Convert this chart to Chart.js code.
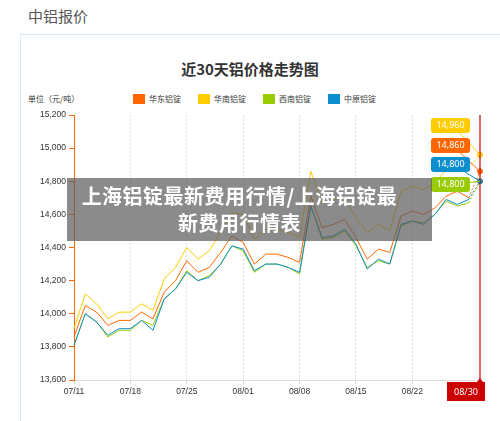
<!DOCTYPE html>
<html><head><meta charset="utf-8">
<script src="https://cdn.jsdelivr.net/npm/chart.js@4"></script>
<style>
body{margin:0;width:500px;height:421px;background:#fff;font-family:"Noto Sans CJK SC","Noto Sans",sans-serif;position:relative;overflow:hidden}
#head{position:absolute;left:28px;top:5px;font-size:15px;color:#555}
#box{position:absolute;left:20px;top:34px;width:490px;height:400px;border:1px solid #d8e8f2}
#title{position:absolute;left:0;width:500px;top:58px;text-align:center;font-size:15px;font-weight:bold;color:#333}
#unit{position:absolute;left:28px;top:93px;font-size:8px;color:#333}
#legend{position:absolute;left:133px;top:93px;font-size:8px;color:#333;display:flex;gap:17px}
#legend span i{display:inline-block;width:12px;height:10px;margin-right:4px;vertical-align:-2px}
#cv{position:absolute;left:0;top:0}
#banner{position:absolute;left:67px;top:178px;width:365px;height:63px;background:rgba(90,90,90,.7);color:#fff;font-weight:bold;font-size:20px;text-align:center;line-height:27px;padding:4px 20px 0 0;box-sizing:border-box;letter-spacing:0.5px}
</style></head><body>
<div id="head">中铝报价</div>
<div id="box"></div>
<div id="title">近30天铝价格走势图</div>
<div id="unit">单位（元/吨）</div>
<div id="legend"></div>
<canvas id="cv" width="500" height="421"></canvas>
<div id="banner">上海铝锭最新费用行情/上海铝锭最<br>新费用行情表</div>
<script>
const dates = ['07/11','07/12','07/13','07/14','07/15','07/18','07/19','07/20','07/21','07/22','07/25','07/26','07/27','07/28','07/29','08/01','08/02','08/03','08/04','08/05','08/08','08/09','08/10','08/11','08/12','08/15','08/16','08/17','08/18','08/19','08/22','08/23','08/24','08/25','08/26','08/29','08/30'];
const huadong = [13860,14050,14010,13930,13960,13960,14010,13970,14130,14200,14320,14250,14280,14370,14470,14430,14300,14360,14360,14340,14310,14710,14520,14540,14570,14460,14330,14390,14370,14590,14620,14600,14640,14710,14740,14700,14860];
const huanan = [13910,14120,14060,13970,14010,14010,14060,14020,14210,14280,14400,14330,14380,14490,14610,14600,14450,14510,14510,14490,14460,14860,14670,14690,14700,14580,14490,14540,14500,14740,14770,14750,14790,14870,14900,14880,14960];
const xinan = [13810,14000,13950,13860,13900,13900,13960,13930,14090,14150,14260,14200,14230,14300,14410,14380,14250,14300,14300,14280,14240,14650,14450,14460,14500,14410,14280,14320,14300,14530,14560,14550,14600,14680,14650,14670,14800];
const zhongyuan = [13810,14000,13950,13870,13910,13910,13960,13900,14090,14150,14250,14200,14220,14300,14410,14390,14260,14300,14300,14280,14250,14650,14460,14470,14510,14420,14270,14330,14300,14540,14560,14540,14600,14690,14660,14690,14800];
const names = ['华东铝锭','华南铝锭','西南铝锭','中原铝锭'];
const colors = ['#ff6600','#ffcc00','#99cc00','#0d8ecf'];
const yTicks = [13600,13800,14000,14200,14400,14600,14800,15000,15200];
const series = [huadong,huanan,xinan,zhongyuan];

const lg = document.getElementById('legend');
names.forEach((n,i)=>{ lg.innerHTML += `<span><i style="background:${colors[i]}"></i>${n}</span>`; });

const last = dates.length-1;
const sets = series.map((d,i)=>({
  label:names[i], data:d, borderColor:colors[i], backgroundColor:colors[i], borderWidth:1,
  pointRadius:ctx=>ctx.dataIndex===last?2.5:0, tension:0,
  segment:{borderDash:ctx=>ctx.p1DataIndex===last?[2,2]:undefined}
}));
// blue drawn under the others
const order = [3,2,0,1];

const extras = {
  id:'extras',
  afterDatasetsDraw(c){
    const {ctx,scales:{x,y},chartArea:a} = c;
    const px = x.getPixelForValue(last);
    ctx.save();
    ctx.strokeStyle='#cc0000'; ctx.lineWidth=1.2;
    ctx.beginPath(); ctx.moveTo(px,a.top); ctx.lineTo(px,a.bottom); ctx.stroke();
    ctx.fillStyle='#cc0000';
    ctx.fillRect(px-33,a.bottom+2,38,19);
    ctx.beginPath(); ctx.moveTo(px-3,a.bottom+2); ctx.lineTo(px,a.bottom-2); ctx.lineTo(px+3,a.bottom+2); ctx.fill();
    ctx.fillStyle='#fff'; ctx.font='9px "Noto Sans", sans-serif'; ctx.textAlign='center'; ctx.textBaseline='middle';
    ctx.fillText(dates[last],px-14,a.bottom+12);
    const lbl = [[1,125],[0,145],[3,164],[2,184]];
    lbl.forEach(([i,ty])=>{
      const v = series[i][last];
      const py = y.getPixelForValue(v);
      ctx.strokeStyle=colors[i]; ctx.lineWidth=1;
      ctx.beginPath(); ctx.moveTo(452,ty); ctx.lineTo(px,py); ctx.stroke();
      ctx.fillStyle=colors[i];
      ctx.beginPath(); ctx.roundRect(431,ty-7,39,15,3); ctx.fill();
      ctx.fillStyle='#fff'; ctx.font='9px "Noto Sans", sans-serif';
      ctx.fillText(v.toLocaleString('en-US'),450.5,ty+0.5);
    });
    ctx.restore();
  }
};

new Chart(document.getElementById('cv'),{
  type:'line',
  data:{labels:dates,datasets:order.map(i=>sets[i])},
  options:{
    responsive:false,animation:false,
    layout:{padding:{top:115,left:20,right:20,bottom:14}},
    plugins:{legend:{display:false},tooltip:{enabled:false}},
    scales:{
      x:{
        afterFit:s=>{s.height=27;},
        ticks:{autoSkip:false,maxRotation:0,color:'#333',font:{size:8.5},
          callback:(v,i)=>(i%5===0 && i<=30)?dates[i]:''},
        grid:{color:ctx=>(ctx.index%5===0&&ctx.index<=30)?'#dcdcdc':'transparent',tickLength:4},
        border:{color:'#ddd',dash:[2,2]}
      },
      y:{
        min:13600,max:15200,
        afterFit:s=>{s.width=54;},
        afterBuildTicks:s=>{s.ticks=yTicks.map(v=>({value:v}));},
        ticks:{color:'#333',font:{size:8.5},callback:v=>v.toLocaleString('en-US')},
        grid:{drawOnChartArea:false,color:'#ff6600',tickLength:5},
        border:{color:'#ff6600'}
      }
    }
  },
  plugins:[extras]
});
</script>
</body></html>
